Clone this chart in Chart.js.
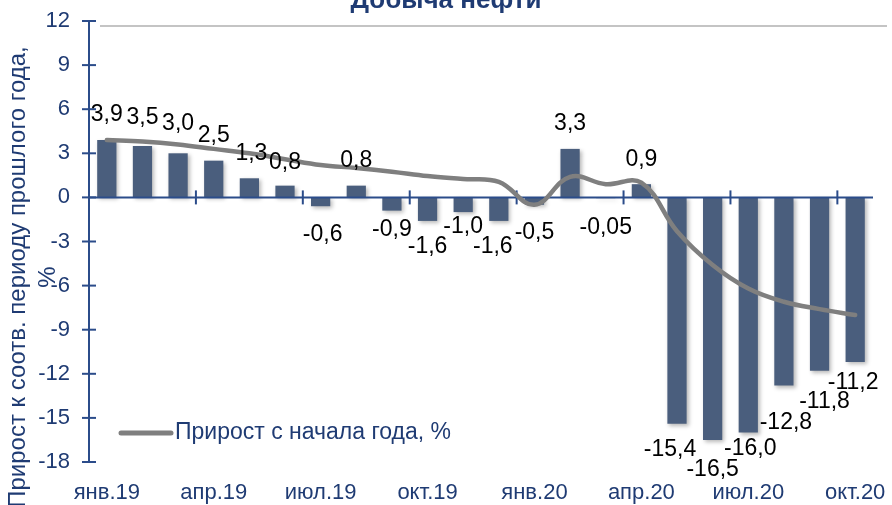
<!DOCTYPE html>
<html>
<head>
<meta charset="utf-8">
<script src="https://cdn.jsdelivr.net/npm/chart.js@4/dist/chart.umd.min.js"></script>
<style>
  html, body { margin: 0; padding: 0; background: #fff; }
  #wrap { width: 892px; height: 505px; }
</style>
</head>
<body>
<div id="wrap"><canvas id="oilChart" width="892" height="505"></canvas></div>
<script>
// месяцы
const months = ['янв.19', 'фев.19', 'мар.19', 'апр.19', 'май.19', 'июн.19', 'июл.19', 'авг.19', 'сен.19', 'окт.19', 'ноя.19', 'дек.19',
                'янв.20', 'фев.20', 'мар.20', 'апр.20', 'май.20', 'июн.20', 'июл.20', 'авг.20', 'сен.20', 'окт.20'];
// прирост к соотв. периоду прошлого года, %
const yoyGrowth = [3.9, 3.5, 3.0, 2.5, 1.3, 0.8, -0.6, 0.8, -0.9, -1.6, -1.0, -1.6,
                   -0.5, 3.3, -0.05, 0.9, -15.4, -16.5, -16.0, -12.8, -11.8, -11.2];
// прирост с начала года, %
const ytdGrowth = [3.9, 3.8, 3.6, 3.3, 3.0, 2.6, 2.2, 2.0, 1.75, 1.45, 1.25, 1.05,
                   -0.5, 1.4, 0.9, 1.0, -2.3, -4.6, -6.2, -7.1, -7.6, -8.0];
const yTicks = [-18, -15, -12, -9, -6, -3, 0, 3, 6, 9, 12];

// ручные сдвиги подписей (как в исходной диаграмме), px
const labelNudgeX = [0, 0, 0, 0, 2, 0, 2, 0, 0, 0, 0, -6, 0, 0, 0, 0, -7, 0, 2, 2, 5, -2];
const labelNudgeY = [0, -3, -5, 0, 0, 2, 2, 0, -7, 0, -11, 0, 2, 0, 4, 0, 0, 4, -10, 11, 5, -5];

const chartTitle = 'Добыча нефти';
const yTitle = ['Прирост к соотв. периоду прошлого года,', '%'];
const lineLabel = 'Прирост с начала года, %';

const FONT = '"Liberation Sans", Arial, sans-serif';
const BLUE_TEXT = '#1F3B73';
const AXIS_BLUE = '#2B4C8A';
const BAR_COLOR = '#4A5E7D';
const LINE_GRAY = '#7F7F7F';

function fmt(v) {
    const d = Math.abs(v) < 0.1 ? 2 : 1;
    return v.toFixed(d).replace('.', ',');
}

const decorPlugin = {
    id: 'decor',
    beforeDatasetDraw(chart, args) {
        if (args.meta.type !== 'bar') return;
        const ctx = chart.ctx;
        ctx.save();
        ctx.shadowColor = 'rgba(0,0,0,0.28)';
        ctx.shadowBlur = 4;
        ctx.shadowOffsetX = 2;
        ctx.shadowOffsetY = 2;
    },
    afterDatasetDraw(chart, args) {
        if (args.meta.type !== 'bar') return;
        const ctx = chart.ctx;
        ctx.restore();
        const { left, right, top, bottom } = chart.chartArea;
        const xs = chart.scales.x;
        const ys = chart.scales.y;
        const y0 = ys.getPixelForValue(0);

        ctx.save();
        ctx.strokeStyle = AXIS_BLUE;
        ctx.lineWidth = 2;
        // ось Y
        ctx.beginPath();
        ctx.moveTo(left, top);
        ctx.lineTo(left, bottom);
        ctx.stroke();
        yTicks.forEach(t => {
            const y = ys.getPixelForValue(t);
            ctx.beginPath();
            ctx.moveTo(left - 7, y);
            ctx.lineTo(left + 7, y);
            ctx.stroke();
        });
        // нулевая линия
        ctx.beginPath();
        ctx.moveTo(left, y0);
        ctx.lineTo(right, y0);
        ctx.stroke();
        for (let i = 3; i < months.length; i += 3) {
            const x = (xs.getPixelForValue(i - 1) + xs.getPixelForValue(i)) / 2;
            ctx.beginPath();
            ctx.moveTo(x, y0 - 7);
            ctx.lineTo(x, y0 + 7);
            ctx.stroke();
        }
        ctx.restore();
    },
    afterDraw(chart) {
        const ctx = chart.ctx;
        const { left, right, top, bottom } = chart.chartArea;
        ctx.save();

        // линия под заголовком
        ctx.strokeStyle = '#C4C4C4';
        ctx.lineWidth = 2;
        ctx.beginPath();
        ctx.moveTo(left + 11, top + 5);
        ctx.lineTo(right + 14, top + 5);
        ctx.stroke();

        // заголовок (обрезан сверху)
        ctx.fillStyle = BLUE_TEXT;
        ctx.font = 'bold 26px ' + FONT;
        ctx.textAlign = 'center';
        ctx.textBaseline = 'alphabetic';
        ctx.fillText(chartTitle, chart.width / 2, 8);

        // подписи значений
        const meta = chart.getDatasetMeta(0);
        ctx.fillStyle = '#000';
        ctx.font = '23px ' + FONT;
        ctx.textBaseline = 'middle';
        meta.data.forEach((bar, i) => {
            const v = yoyGrowth[i];
            const y = (v >= 0 ? bar.y - 25 : bar.y + 26) + labelNudgeY[i];
            ctx.fillText(fmt(v), bar.x + labelNudgeX[i], y);
        });

        // легенда
        const ly = bottom - 29;
        ctx.strokeStyle = LINE_GRAY;
        ctx.lineWidth = 5;
        ctx.lineCap = 'round';
        ctx.beginPath();
        ctx.moveTo(left + 32, ly);
        ctx.lineTo(left + 82, ly);
        ctx.stroke();
        ctx.fillStyle = BLUE_TEXT;
        ctx.textAlign = 'left';
        ctx.font = '23px ' + FONT;
        ctx.fillText(lineLabel, left + 86, ly);

        // подпись оси Y
        ctx.translate(0, 277);
        ctx.rotate(-Math.PI / 2);
        ctx.textAlign = 'center';
        ctx.font = '24px ' + FONT;
        ctx.fillText(yTitle[0], 0, 18);
        ctx.fillText(yTitle[1], 0, 48);
        ctx.restore();
    }
};

new Chart(document.getElementById('oilChart'), {
    type: 'bar',
    data: {
        labels: months,
        datasets: [{
            type: 'bar',
            label: 'Прирост к соотв. периоду прошлого года, %',
            data: yoyGrowth,
            backgroundColor: BAR_COLOR,
            borderWidth: 0,
            categoryPercentage: 1,
            barPercentage: 0.54,
            order: 1
        }, {
            type: 'line',
            label: lineLabel,
            data: ytdGrowth,
            borderColor: LINE_GRAY,
            borderWidth: 4.5,
            borderCapStyle: 'round',
            pointRadius: 0,
            tension: 0.4,
            fill: false,
            order: 0
        }]
    },
    options: {
        responsive: false,
        animation: false,
        layout: { padding: { top: 21, right: 19, left: 0, bottom: 0 } },
        plugins: {
            legend: { display: false },
            title: { display: false },
            tooltip: { enabled: false }
        },
        scales: {
            x: {
                grid: { display: false },
                border: { display: false },
                ticks: {
                    autoSkip: false,
                    maxRotation: 0,
                    padding: 10,
                    color: BLUE_TEXT,
                    font: { family: FONT, size: 22 },
                    callback: (val, i) => (i % 3 === 0 ? months[i] : '')
                },
                afterFit: s => { s.height = 43; s.paddingLeft = 0; s.paddingRight = 0; }
            },
            y: {
                min: -18,
                max: 12,
                grid: { display: false },
                border: { display: false },
                ticks: {
                    stepSize: 3,
                    padding: 11,
                    color: BLUE_TEXT,
                    font: { family: FONT, size: 22 }
                },
                afterFit: s => { s.width = 89; s.paddingTop = 0; s.paddingBottom = 0; }
            }
        }
    },
    plugins: [decorPlugin]
});
</script>
</body>
</html>
